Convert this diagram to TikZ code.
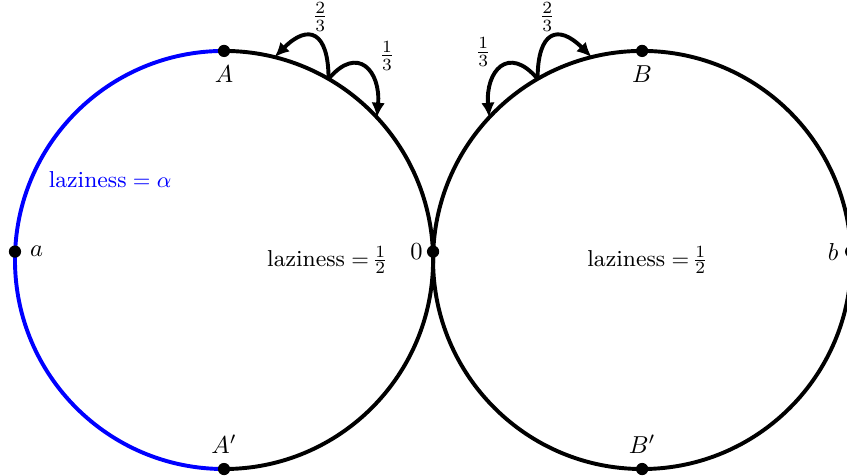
\documentclass[tikz,border=0pt]{standalone}
\usetikzlibrary{arrows.meta}
\begin{document}
\begin{tikzpicture}[
  ring/.style={line width=1.6pt},
  dot/.style={circle, fill=black, inner sep=0pt, minimum size=5pt},
  hop/.style={line width=1.6pt, -{Latex[length=6pt,width=5.5pt]}},
  lbl/.style={inner sep=1pt},
  lazy/.style={inner sep=1pt, font=\fontsize{9.4}{11}\selectfont}
]
\useasboundingbox (-6.215,-3.1) rectangle (5.94,3.731);
% circles
\draw[ring] (-3,-3) arc (-90:90:3);
\draw[ring, blue] (-3,3) arc (90:270:3);
\draw[ring] (3,0) circle (3);
% points
\node[dot, label={below:$A$}] (A) at (-3,3) {};
\node[dot, label={above:$A'$}] (Ap) at (-3,-3) {};
\node[dot, label={right:$a$}] (a) at (-6,0.12) {};
\node[dot, label={[label distance=-2pt]left:$0$}] (o) at (0,0.12) {};
\node[dot, label={[label distance=-1pt]left:$b$}] (b) at (6,0.12) {};
\node[dot, label={below:$B$}] (B) at (3,3) {};
\node[dot, label={above:$B'$}] (Bp) at (3,-3) {};
% arrow anchors
\coordinate (s1) at (-1.5,2.598);
\coordinate (t1a) at (-2.2742,2.9108);
\coordinate (t1b) at (-0.806,2.046);
\coordinate (s2) at (1.5,2.598);
\coordinate (t2a) at (2.2742,2.9108);
\coordinate (t2b) at (0.806,2.046);
\draw[hop] (s1) to[out=90, in=45, looseness=2.1] (t1a);
\draw[hop] (s1) to[out=50, in=85, looseness=1.9] (t1b);
\draw[hop] (s2) to[out=90, in=135, looseness=2.1] (t2a);
\draw[hop] (s2) to[out=130, in=95, looseness=1.9] (t2b);
% labels
\node[lbl] (f1) at (-1.62,3.49) {$\frac{2}{3}$};
\node[lbl] (f2) at (-0.66,2.93) {$\frac{1}{3}$};
\node[lbl] (f3) at (0.72,2.98) {$\frac{1}{3}$};
\node[lbl] (f4) at (1.64,3.49) {$\frac{2}{3}$};
\node[lazy, text=blue] (L1) at (-4.635,1.15) {$\mbox{laziness}=\alpha$};
\node[lazy] (L2) at (-1.535,0) {\nulldelimiterspace=0pt $\mbox{laziness}=\frac{1}{2}$};
\node[lazy] (L3) at (3.06,0) {\nulldelimiterspace=0pt $\mbox{laziness}=\frac{1}{2}$};
\end{tikzpicture}
\end{document}
